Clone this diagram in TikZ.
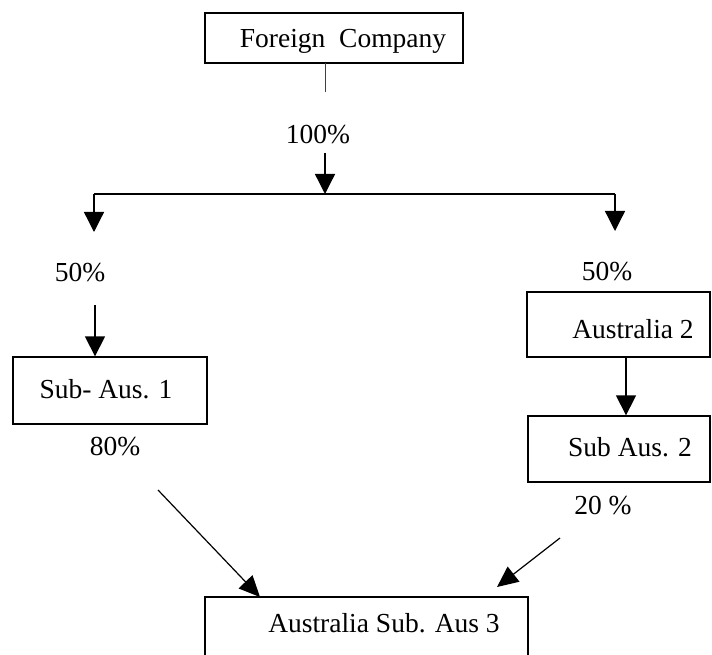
\documentclass[tikz,border=0pt]{standalone}
\usepackage{fontspec}
\setmainfont{Liberation Serif}
\usetikzlibrary{arrows.meta}
\newcommand{\boxtxt}[2]{\raisebox{#1}[20pt][6pt]{#2}}
\begin{document}
\begin{tikzpicture}[x=1pt,y=-1pt,
  box/.style={draw,line width=1.3pt,inner sep=0pt,font=\fontsize{27.5}{30}\selectfont},
  lbl/.style={inner sep=0pt,font=\fontsize{27.5}{30}\selectfont},
  arr/.style={line width=1.3pt,-{Triangle[length=20pt,width=20pt]}},
  darr/.style={line width=1.2pt,-{Triangle[length=21pt,width=19pt]}},
  ln/.style={line width=1.3pt}]
\useasboundingbox (0,0) rectangle (712,655);
\clip (0,0) rectangle (712,655);
% boxes
\node[box,minimum width=258pt,minimum height=50pt] (fc) at (334,38) {\hspace*{18pt}\boxtxt{-3pt}{Foreign\ \ Company}};
\node[box,minimum width=194pt,minimum height=67pt] (a1) at (110,390.5) {\hspace*{-8pt}\boxtxt{-1pt}{Sub- Aus. 1}};
\node[box,minimum width=183pt,minimum height=65pt] (a2) at (618.5,324.5) {\hspace*{29pt}\boxtxt{-7pt}{Australia 2}};
\node[box,minimum width=182pt,minimum height=66pt] (s2) at (619,449) {\hspace*{22pt}\boxtxt{0pt}{Sub Aus. 2}};
\node[box,minimum width=323pt,minimum height=64pt] (a3) at (366.5,629) {\hspace*{35pt}\boxtxt{4pt}{Australia Sub. Aus 3}};
% labels
\node[lbl] (p100) at (318,135) {100\%};
\node[lbl] (l50) at (80,273) {50\%};
\node[lbl] (r50) at (607,272) {50\%};
\node[lbl] (p80) at (115,447) {80\%};
\node[lbl] (p20) at (603,506) {20 \%};
% coordinates
\coordinate (t1) at (325,63);
\coordinate (t2) at (325,92);
\coordinate (t3) at (325,153);
\coordinate (j) at (325,194);
\coordinate (jl) at (94,194);
\coordinate (jr) at (615,194);
\coordinate (dl) at (94,232);
\coordinate (dr) at (615,231);
\coordinate (l1) at (95,305);
\coordinate (m) at (626,0);
\coordinate (d1) at (158,490);
\coordinate (d1e) at (260,597);
\coordinate (d2) at (560,538);
\coordinate (d2e) at (497,587);
% connectors
\draw[line width=1pt,black!75] (t1) -- (t2);
\draw[arr] (t3) -- (j);
\draw[ln] (jl) -- (jr);
\draw[arr] (jl) -- (dl);
\draw[arr] (jr) -- (dr);
\draw[arr] (l1) -- (a1.north -| l1);
\draw[arr] (a2.south -| m) -- (s2.north -| m);
\draw[darr] (d1) -- (d1e);
\draw[darr] (d2) -- (d2e);
\end{tikzpicture}
\end{document}
